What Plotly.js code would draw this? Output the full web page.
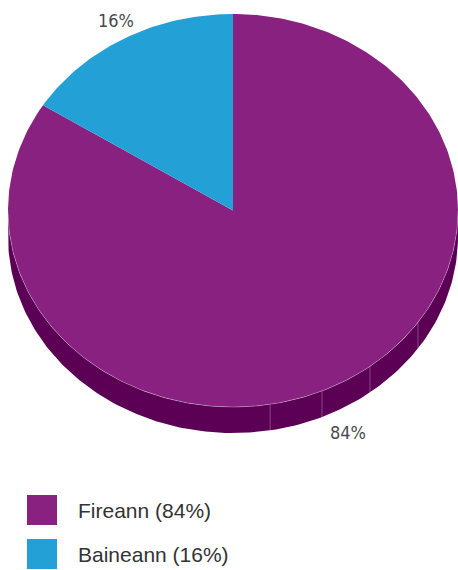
<!DOCTYPE html>
<html>
<head>
<meta charset="utf-8">
<script src="https://cdn.plot.ly/plotly-3.0.1.min.js"></script>
<style>
html,body{margin:0;padding:0;background:#fff;}
#chart{width:458px;height:570px;}
</style>
</head>
<body>
<div id="chart"></div>
<script>
// ---- data ----
const categories = ['Fireann', 'Baineann'];
const values = [84, 16];
const sliceLabels = ['84%', '16%'];
const legendLabels = ['Fireann (84%)', 'Baineann (16%)'];

// ---- styles ----
const topColors = ['#88217F', '#23A1D6'];
const sideColors = ['#5C0056', '#14698E'];
const W = 458, H = 570;
const cx = 233, cy = 210.5, rx = 225, ry = 196.5, depth = 26;
const labelOffset = 20;
const seamAngles = [124.7, 142.5, 156.7, 170.5];

function pt(deg, dy) {
  const r = deg * Math.PI / 180;
  return [cx + rx * Math.sin(r), cy - ry * Math.cos(r) + (dy || 0)];
}
function arc(a0, a1, dy) {
  const n = Math.max(2, Math.ceil(Math.abs(a1 - a0) / 1));
  const out = [];
  for (let i = 0; i <= n; i++) out.push(pt(a0 + (a1 - a0) * i / n, dy));
  return out;
}

const total = values.reduce((a, b) => a + b, 0);
const slices = [];
let acc = 0;
values.forEach((v, i) => {
  const a0 = acc / total * 360;
  acc += v;
  const a1 = acc / total * 360;
  slices.push({ a0, a1, i });
});

const traces = [];
// side walls (front half: 90..270 deg)
slices.forEach(s => {
  const lo = Math.max(s.a0, 90), hi = Math.min(s.a1, 270);
  if (hi > lo) {
    const top = arc(lo, hi, 0);
    const bot = arc(hi, lo, depth);
    const poly = top.concat(bot);
    poly.push(top[0]);
    traces.push({
      type: 'scatter', mode: 'lines', fill: 'toself',
      x: poly.map(p => p[0]), y: poly.map(p => p[1]),
      fillcolor: sideColors[s.i], line: { width: 0 },
      hoverinfo: 'skip', showlegend: false
    });
  }
});
// seams on side wall
seamAngles.forEach(a => {
  const p = pt(a, 0), q = pt(a, depth);
  traces.push({
    type: 'scatter', mode: 'lines',
    x: [p[0], q[0]], y: [p[1], q[1]],
    line: { color: 'rgba(255,255,255,0.28)', width: 1 },
    hoverinfo: 'skip', showlegend: false
  });
});
// top faces
slices.forEach(s => {
  const pts = [[cx, cy]].concat(arc(s.a0, s.a1, 0));
  pts.push([cx, cy]);
  traces.push({
    type: 'scatter', mode: 'lines', fill: 'toself',
    x: pts.map(p => p[0]), y: pts.map(p => p[1]),
    fillcolor: topColors[s.i], line: { width: 0 },
    name: categories[s.i], hoverinfo: 'skip', showlegend: false
  });
});
// light rim between top and side
const rim = arc(90, 270, 0);
traces.push({
  type: 'scatter', mode: 'lines',
  x: rim.map(p => p[0]), y: rim.map(p => p[1]),
  line: { color: 'rgba(255,255,255,0.35)', width: 0.8 },
  hoverinfo: 'skip', showlegend: false
});

// slice labels
const annotations = [];
slices.forEach(s => {
  const mid = (s.a0 + s.a1) / 2;
  const r = mid * Math.PI / 180;
  const sn = Math.sin(r), cs = Math.cos(r);
  const x = cx + (rx + labelOffset) * sn;
  let y = cy - (ry + labelOffset) * cs;
  if (cs < 0) y += depth + 6;
  annotations.push({
    x: x - (cs < 0 ? 3 : -1), y: y, xref: 'x', yref: 'y', text: sliceLabels[s.i], showarrow: false,
    xanchor: 'center', yanchor: 'middle',
    font: { family: 'DejaVu Sans Condensed, Roboto Condensed, Roboto, sans-serif', size: 18, color: '#4a4a4a' }
  });
});

// legend
const shapes = [];
const legendTop = 495, legendStep = 44, sw = 30;
legendLabels.forEach((t, i) => {
  const y0 = legendTop + i * legendStep;
  shapes.push({
    type: 'rect', xref: 'x', yref: 'y',
    x0: 27, x1: 27 + sw, y0: y0, y1: y0 + sw,
    fillcolor: topColors[i], line: { width: 0 }
  });
  annotations.push({
    x: 76, y: y0 + sw / 2, xref: 'x', yref: 'y', text: t, showarrow: false,
    xanchor: 'left', yanchor: 'middle',
    font: { family: 'Liberation Sans, Arial, sans-serif', size: 21, color: '#333333' }
  });
});

const layout = {
  width: W, height: H,
  margin: { l: 0, r: 0, t: 0, b: 0, pad: 0 },
  paper_bgcolor: '#ffffff', plot_bgcolor: '#ffffff',
  xaxis: { range: [0, W], visible: false, fixedrange: true },
  yaxis: { range: [H, 0], visible: false, fixedrange: true },
  showlegend: false,
  shapes: shapes,
  annotations: annotations
};

Plotly.newPlot('chart', traces, layout, { staticPlot: true, displayModeBar: false });
</script>
</body>
</html>
